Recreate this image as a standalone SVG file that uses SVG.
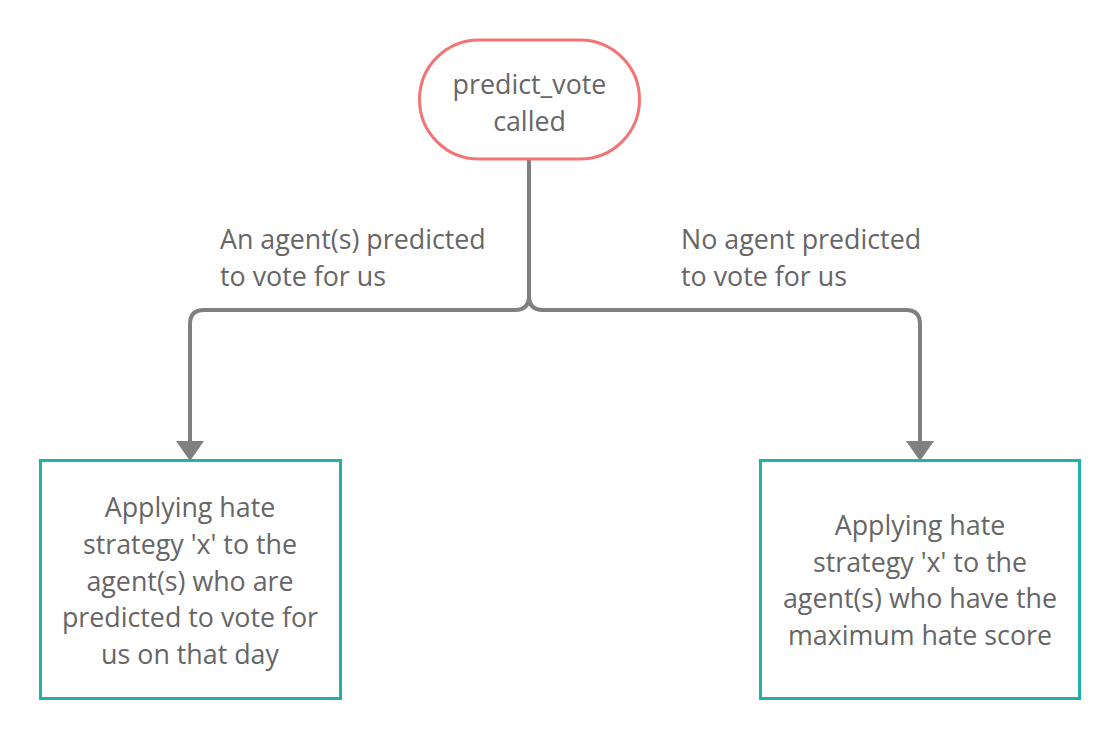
<svg xmlns="http://www.w3.org/2000/svg" width="1120" height="740" viewBox="0 0 1120 740">
<style>
text{font-family:"Open Sans","Noto Sans","Liberation Sans",sans-serif;font-size:26.8px;fill:#666666;}
.c{text-anchor:middle;}
.box{fill:#ffffff;stroke:#20b2aa;stroke-width:3;}
.conn{fill:none;stroke:#808080;stroke-width:4;}
</style>
<rect width="1120" height="740" fill="#ffffff"/>
<g id="connectors">
<path class="conn" d="M529,160 V296 Q529,310 515,310 H204 Q190,310 190,324 V442"/>
<path class="conn" d="M529,160 V296 Q529,310 543,310 H906 Q920,310 920,324 V442"/>
<path d="M176,441 L204,441 L190,461 Z" fill="#808080"/>
<path d="M906,441 L934,441 L920,461 Z" fill="#808080"/>
<text x="220" y="249">An agent(s) predicted</text>
<text x="220" y="286">to vote for us</text>
<text x="681" y="249">No agent predicted</text>
<text x="681" y="286">to vote for us</text>
</g>
<g id="start">
<rect x="419.5" y="40" width="220" height="119" rx="59.5" ry="59.5" fill="#ffffff" stroke="#f27474" stroke-width="3"/>
<text class="c" x="529.5" y="94">predict_vote</text>
<text class="c" x="529.5" y="131">called</text>
</g>
<g id="left">
<rect class="box" x="40.5" y="460.5" width="300" height="238"/>
<text class="c" x="190" y="517">Applying hate</text>
<text class="c" x="190" y="554">strategy 'x' to the</text>
<text class="c" x="190" y="591">agent(s) who are</text>
<text class="c" x="190" y="627">predicted to vote for</text>
<text class="c" x="190" y="664">us on that day</text>
</g>
<g id="right">
<rect class="box" x="760.5" y="460.5" width="319" height="238"/>
<text class="c" x="920" y="535">Applying hate</text>
<text class="c" x="920" y="572">strategy 'x' to the</text>
<text class="c" x="920" y="608">agent(s) who have the</text>
<text class="c" x="920" y="645">maximum hate score</text>
</g>
</svg>
